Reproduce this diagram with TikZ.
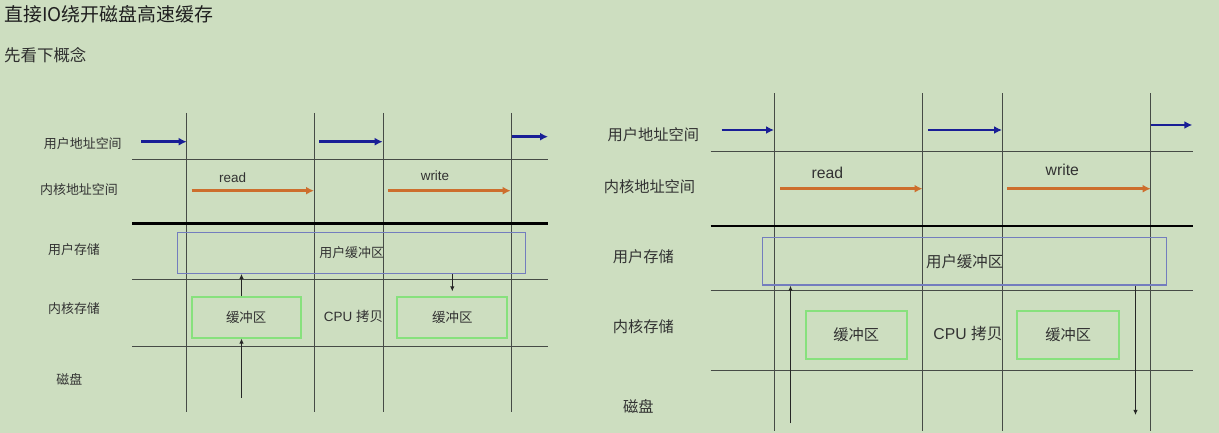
\documentclass[tikz,border=0pt]{standalone}
\usepackage{fontspec}
\setmainfont{Liberation Sans}
\newfontfamily\cjk{Noto Sans CJK SC}
\usetikzlibrary{arrows.meta}
\definecolor{bg}{RGB}{205,222,192}
\definecolor{txt}{RGB}{50,50,50}
\definecolor{gridc}{RGB}{70,75,70}
\definecolor{navy}{RGB}{25,30,150}
\definecolor{orng}{RGB}{205,110,45}
\definecolor{ubox}{RGB}{115,125,190}
\definecolor{gbox}{RGB}{135,225,125}
\tikzset{
  lblL/.style={font=\cjk\fontsize{13}{15}\selectfont, text=txt, inner sep=0pt},
  lblR/.style={font=\cjk\fontsize{15.3}{17}\selectfont, text=txt, inner sep=0pt},
  gridline/.style={draw=gridc, line width=1bp},
  sepline/.style={draw=black, line width=2.6bp},
  uarrow/.style={draw=navy, line width=2.8bp, -{Latex[length=8bp,width=8bp]}},
  oarrow/.style={draw=orng, line width=2.8bp, -{Latex[length=8bp,width=8bp]}},
  karrow/.style={draw=black!85, line width=1bp, -{Latex[length=5bp,width=4.5bp]}},
  userbox/.style={draw=ubox, line width=1.3bp, inner sep=0pt},
  bufbox/.style={draw=gbox, line width=1.8bp, inner sep=0pt},
}
\begin{document}
\begin{tikzpicture}[x=1bp,y=-1bp]
\fill[bg] (0,0) rectangle (1219,433);
\useasboundingbox (0,0) rectangle (1219,433);

% headings
\node[anchor=west, inner sep=0pt, text=black!88, font=\cjk\fontsize{19}{21}\selectfont] (title) at (4,14) {直接IO绕开磁盘高速缓存};
\node[anchor=west, inner sep=0pt, text=black!82, font=\cjk\fontsize{16.5}{18}\selectfont] (sub) at (4,55) {先看下概念};

%%%%%%%%%%%%%%%% LEFT DIAGRAM
% grid
\foreach \xx in {186.5,314.5,383.5,511.5} \draw[gridline] (\xx,113) -- (\xx,412);
\foreach \yy in {159.5,279.5,346.5} \draw[gridline] (132,\yy) -- (548,\yy);
\draw[sepline] (132,223.3) -- (548,223.3);

% row labels
\node[lblL] (la1) at (82.8,144) {用户地址空间};
\node[lblL] (la2) at (79,190) {内核地址空间};
\node[lblL] (la3) at (74,250) {用户存储};
\node[lblL] (la4) at (74,309) {内核存储};
\node[lblL] (la5) at (69.3,379) {磁盘};

% boxes
\node[userbox, minimum width=348bp, minimum height=40.6bp, font=\cjk\fontsize{13}{15}\selectfont, text=txt] (ubL) at (351.7,253) {用户缓冲区};
\node[bufbox, minimum width=109bp, minimum height=40.4bp, font=\cjk\fontsize{13.5}{15}\selectfont, text=txt] (gL1) at (246.2,317.5) {缓冲区};
\node[bufbox, minimum width=110bp, minimum height=40.4bp, font=\cjk\fontsize{13.5}{15}\selectfont, text=txt] (gL2) at (452.3,317.5) {缓冲区};
\node[inner sep=0pt, text=txt, font=\fontsize{13.5}{15}\selectfont] (cpuL) at (353.5,316.5) {CPU {\cjk 拷贝}};

% address space arrows
\coordinate (bL1s) at (141,141.7);   \coordinate (bL1e) at (186.7,141.7);
\coordinate (bL2s) at (319.3,141.7); \coordinate (bL2e) at (382.7,141.7);
\coordinate (bL3s) at (511.7,136.7); \coordinate (bL3e) at (548,136.7);
\draw[uarrow] (bL1s) -- (bL1e);
\draw[uarrow] (bL2s) -- (bL2e);
\draw[uarrow] (bL3s) -- (bL3e);
\coordinate (oL1s) at (191.7,190.7); \coordinate (oL1e) at (314,190.7);
\coordinate (oL2s) at (388.3,190.7); \coordinate (oL2e) at (510.7,190.7);
\draw[oarrow] (oL1s) -- (oL1e);
\draw[oarrow] (oL2s) -- (oL2e);
\node[inner sep=0pt, text=txt, font=\fontsize{13.5}{15}\selectfont] (readL) at (232.7,178) {read};
\node[inner sep=0pt, text=txt, font=\fontsize{13.5}{15}\selectfont] (writeL) at (435,176) {write};

% data arrows
\coordinate (dL1) at (241.5,397.7);
\draw[karrow] (dL1) -- (dL1 |- gL1.south);
\draw[karrow] (dL1 |- gL1.north) -- (dL1 |- ubL.south);
\draw[karrow] (ubL.south -| gL2.north) -- ([yshift=5bp]gL2.north);

%%%%%%%%%%%%%%%% RIGHT DIAGRAM
\foreach \xx in {774.5,922.5,1002.5,1150.5} \draw[gridline] (\xx,93.3) -- (\xx,431);
\foreach \yy in {151.5,290.5,370.5} \draw[gridline] (710.7,\yy) -- (1192.7,\yy);
\draw[sepline] (710.7,226) -- (1192.7,226);

\node[lblR] (ra1) at (653.3,134.3) {用户地址空间};
\node[lblR] (ra2) at (649.5,186.7) {内核地址空间};
\node[lblR] (ra3) at (643.3,256.7) {用户存储};
\node[lblR] (ra4) at (643.3,326.7) {内核存储};
\node[lblR] (ra5) at (638.3,406.7) {磁盘};

\node[userbox, minimum width=404bp, minimum height=47.7bp, font=\cjk\fontsize{15.5}{17}\selectfont, text=txt] (ubR) at (964.7,261.2) {用户缓冲区};
\node[bufbox, minimum width=101bp, minimum height=48.3bp, font=\cjk\fontsize{15.3}{17}\selectfont, text=txt] (gR1) at (856.2,335.2) {缓冲区};
\node[bufbox, minimum width=101.7bp, minimum height=48.3bp, font=\cjk\fontsize{15.3}{17}\selectfont, text=txt] (gR2) at (1068.2,335.2) {缓冲区};
\node[inner sep=0pt, text=txt, font=\fontsize{15.8}{17}\selectfont] (cpuR) at (968,333.5) {CPU {\cjk 拷贝}};

\coordinate (bR1s) at (721.7,130);  \coordinate (bR1e) at (774,130);
\coordinate (bR2s) at (928.3,130);  \coordinate (bR2e) at (1002,130);
\coordinate (bR3s) at (1151,125);   \coordinate (bR3e) at (1192.3,125);
\draw[uarrow] (bR1s) -- (bR1e);
\draw[uarrow] (bR2s) -- (bR2e);
\draw[uarrow] (bR3s) -- (bR3e);
\coordinate (oR1s) at (780,188.7);   \coordinate (oR1e) at (922.5,188.7);
\coordinate (oR2s) at (1007.3,188.7); \coordinate (oR2e) at (1150.7,188.7);
\draw[oarrow] (oR1s) -- (oR1e);
\draw[oarrow] (oR2s) -- (oR2e);
\node[inner sep=0pt, text=txt, font=\fontsize{15.8}{17}\selectfont] (readR) at (827.3,173) {read};
\node[inner sep=0pt, text=txt, font=\fontsize{15.8}{17}\selectfont] (writeR) at (1062.3,170) {write};

\coordinate (dR1) at (790.5,423.3);
\coordinate (dR2) at (1135.5,415);
\draw[karrow] (dR1) -- (dR1 |- ubR.south);
\draw[karrow] (dR2 |- ubR.south) -- (dR2);
\end{tikzpicture}
\end{document}
